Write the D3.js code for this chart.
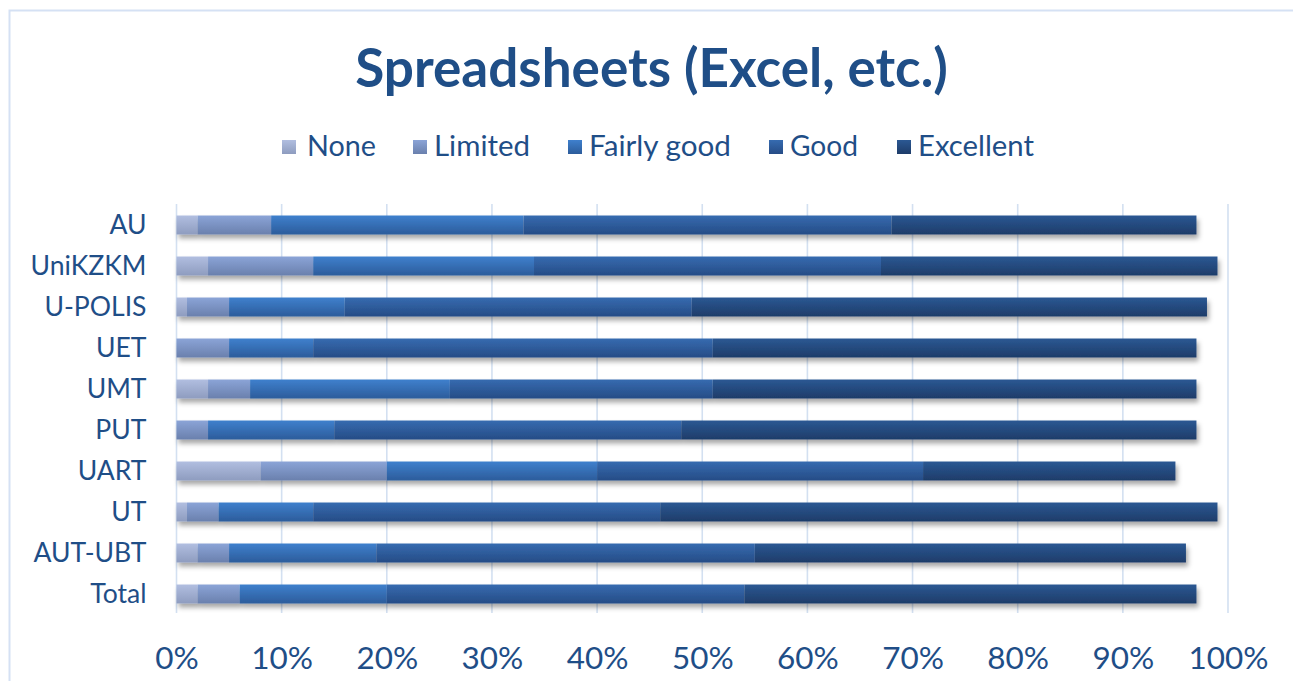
<!DOCTYPE html>
<html><head><meta charset="utf-8">
<script src="https://cdn.jsdelivr.net/npm/d3@7/dist/d3.min.js"></script>
<style>html,body{margin:0;padding:0;background:#fff;overflow:hidden}svg{display:block}text{font-family:Lato,"Open Sans",sans-serif;fill:#1f4e87}</style>
</head><body>
<svg id="c" width="1293" height="681"></svg>
<script>
const title = "Spreadsheets (Excel, etc.)";
const categories = ["AU","UniKZKM","U-POLIS","UET","UMT","PUT","UART","UT","AUT-UBT","Total"];
const seriesNames = ["None","Limited","Fairly good","Good","Excellent"];
const none      = [2, 3, 1, 0, 3, 0, 8, 1, 2, 2];
const limited   = [7, 10, 4, 5, 4, 3, 12, 3, 3, 4];
const fairlyGood= [24, 21, 11, 8, 19, 12, 20, 9, 14, 14];
const good      = [35, 33, 33, 38, 25, 33, 31, 33, 36, 34];
const excellent = [29, 32, 49, 46, 46, 49, 24, 53, 41, 43];
const xTicks = [0,10,20,30,40,50,60,70,80,90,100];
const seriesValues = [none, limited, fairlyGood, good, excellent];
const colors = [["#b1bee0","#8e9cbf"],["#8ba4d7","#6a80ad"],["#3f80cd","#2c5c9b"],["#366bb0","#264c86"],["#2b5893","#1e3c69"]];

const svg = d3.select("#c");
const defs = svg.append("defs");
colors.forEach((c,i)=>{
  const g = defs.append("linearGradient").attr("id","g"+i).attr("x1",0).attr("y1",0).attr("x2",0).attr("y2",1);
  g.append("stop").attr("offset","0%").attr("stop-color",c[0]);
  g.append("stop").attr("offset","100%").attr("stop-color",c[1]);
});
const f = defs.append("filter").attr("id","sh").attr("x","-5%").attr("y","-50%").attr("width","110%").attr("height","250%");
f.append("feDropShadow").attr("dx",2).attr("dy",4).attr("stdDeviation",2.5).attr("flood-color","#000").attr("flood-opacity",0.35);

// chart frame
svg.append("path").attr("d","M9.5,681 V10.5 H1293").attr("fill","none").attr("stroke","#d5e1f4").attr("stroke-width",2);

function fit(sel, target){
  const w = sel.node().getComputedTextLength();
  const fs = parseFloat(sel.attr("font-size"));
  sel.attr("font-size", fs*target/w);
}

const x = d3.scaleLinear().domain([0,100]).range([176.5,1228]);
const y = d3.scaleBand().domain(categories).range([204.5,614.5]).paddingInner(0.537).paddingOuter(0.2685);

// gridlines
svg.append("g").selectAll("line").data(xTicks).join("line")
  .attr("x1",d=>x(d)).attr("x2",d=>x(d)).attr("y1",204).attr("y2",613)
  .attr("stroke","#d3e0f1").attr("stroke-width",1.6);

// stacked data
const rows = categories.map((c,i)=>{const o={cat:c}; seriesNames.forEach((s,j)=>o[s]=seriesValues[j][i]); return o;});
const stack = d3.stack().keys(seriesNames)(rows);

const gb = svg.append("g").attr("filter","url(#sh)");
stack.forEach((layer,j)=>{
  gb.selectAll(null).data(layer).join("rect")
    .attr("x",d=>x(d[0])).attr("width",d=>Math.max(0,x(d[1])-x(d[0])))
    .attr("y",d=>y(d.data.cat)).attr("height",y.bandwidth())
    .attr("fill","url(#g"+j+")");
});

// title
const t = svg.append("text").attr("x",651.5).attr("y",87).attr("text-anchor","middle")
  .attr("font-weight","bold").attr("font-size",44).text(title);
fit(t,593);

// legend
const legX = [282,413,568,769,897];
const legT = [[307,376],[434,530],[589,731],[790,858],[918,1034]];
const lg = svg.append("g");
seriesNames.forEach((s,i)=>{
  lg.append("rect").attr("x",legX[i]).attr("y",140).attr("width",14).attr("height",14).attr("fill","url(#g"+i+")");
  const tt = lg.append("text").attr("x",legT[i][0]).attr("y",156).attr("font-size",27).text(s);
  fit(tt, legT[i][1]-legT[i][0]);
});

// category labels
const ya = d3.axisLeft(y).tickSize(0).tickPadding(30);
const yg = svg.append("g").attr("transform","translate(176.5,0)").call(ya);
yg.select(".domain").remove();
yg.selectAll("text").attr("font-size",24).attr("fill","#1f4e87").style("font-family","Lato,'Open Sans',sans-serif").attr("dy","0.35em");
const ref = yg.selectAll("text").filter(d=>d==="UniKZKM");
const w0 = ref.node().getComputedTextLength();
const fsC = 24*116/w0;
yg.selectAll("text").attr("font-size",fsC);

// x labels
const xa = d3.axisBottom(x).tickValues(xTicks).tickFormat(d=>d+"%").tickSize(0).tickPadding(0);
const xg = svg.append("g").attr("transform","translate(0,647)").call(xa);
xg.select(".domain").remove();
xg.selectAll("text").attr("font-size",24).attr("fill","#1f4e87").style("font-family","Lato,'Open Sans',sans-serif").attr("dy","0.71em");
const r2 = xg.selectAll("text").filter(d=>d===100);
const w1 = r2.node().getComputedTextLength();
xg.selectAll("text").attr("font-size",24*80/w1);
</script>
</body></html>
